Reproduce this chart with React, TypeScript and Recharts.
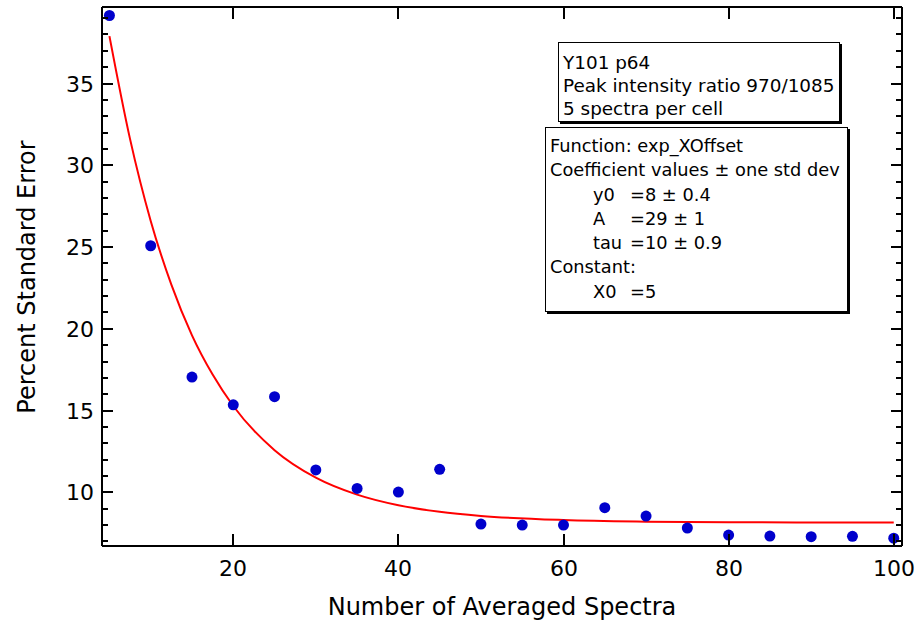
import React from 'react';
import { ComposedChart, Scatter, Line, XAxis, YAxis, ReferenceLine } from 'recharts';

// Data
const averagedSpectra = [5, 10, 15, 20, 25, 30, 35, 40, 45, 50, 55, 60, 65, 70, 75, 80, 85, 90, 95, 100];
const percentStdError = [39.16, 25.08, 17.05, 15.35, 15.85, 11.37, 10.24, 10.02, 11.41, 8.06, 8.0, 8.0, 9.06, 8.55, 7.82, 7.39, 7.33, 7.29, 7.31, 7.2];

// Fitted curve
const fitX = [5, 7.5, 10, 12.5, 15, 17.5, 20, 25, 30, 35, 40, 45, 50, 60, 70, 80, 90, 100];
const fitY = [37.9, 31.6, 26.6, 22.7, 19.6, 17.2, 15.28, 12.58, 10.9, 9.86, 9.21, 8.81, 8.56, 8.31, 8.21, 8.17, 8.16, 8.16];

const xTicks = [20, 40, 60, 80, 100];
const yTicks = [7, 8, 9, 10, 11, 12, 13, 14, 15, 16, 17, 18, 19, 20, 21, 22, 23, 24, 25, 26, 27, 28, 29, 30, 31, 32, 33, 34, 35, 36, 37, 38, 39];

const xDomain = [4.1, 101];
const yDomain = [6.72, 39.68];

const box1Lines = ['Y101 p64', 'Peak intensity ratio 970/1085', '5 spectra per cell'];
const box2Header = ['Function: exp_XOffset', 'Coefficient values \u00b1 one std dev'];
const box2Coefs = [
  ['y0', '=8 \u00b1 0.4'],
  ['A', '=29 \u00b1 1'],
  ['tau', '=10 \u00b1 0.9'],
];
const box2ConstHeader = 'Constant:';
const box2Consts = [['X0', '=5']];

const scatterData = averagedSpectra.map((x, i) => ({ x, y: percentStdError[i] }));
const fitData = fitX.map((x, i) => ({ x, fit: fitY[i] }));

const W = 919;
const H = 626;
const PLOT_LEFT = 102;
const PLOT_RIGHT = 902;
const PLOT_TOP = 7;
const PLOT_BOTTOM = 546;
const PLOT_W = PLOT_RIGHT - PLOT_LEFT;
const PLOT_H = PLOT_BOTTOM - PLOT_TOP;
const FONT = '"DejaVu Sans", sans-serif';

const YTick = (props: any) => {
  const { x, payload } = props;
  const y = Math.round(props.y);
  const v = payload.value;
  const major = v % 5 === 0;
  const len = major ? 11 : 6;
  return (
    <g>
      <line x1={x} x2={x + len} y1={y} y2={y} stroke="#000" strokeWidth={2} shapeRendering="crispEdges" />
      <line x1={x + PLOT_W} x2={x + PLOT_W - len} y1={y} y2={y} stroke="#000" strokeWidth={2} shapeRendering="crispEdges" />
      {major && (
        <text x={x - 8} y={y} dy="0.36em" textAnchor="end" fontFamily={FONT} fontSize={22} fill="#000">
          {v}
        </text>
      )}
    </g>
  );
};

const XTick = (props: any) => {
  const { y, payload } = props;
  const x = Math.round(props.x);
  const len = 12;
  return (
    <g>
      <line x1={x} x2={x} y1={y} y2={y - len} stroke="#000" strokeWidth={2} shapeRendering="crispEdges" />
      <line x1={x} x2={x} y1={y - PLOT_H} y2={y - PLOT_H + len} stroke="#000" strokeWidth={2} shapeRendering="crispEdges" />
      <text x={x} y={y + 22} dy="0.36em" textAnchor="middle" fontFamily={FONT} fontSize={22} fill="#000">
        {payload.value}
      </text>
    </g>
  );
};

const boxStyle: React.CSSProperties = {
  position: 'absolute',
  background: '#fff',
  border: '1px solid #000',
  boxShadow: '2px 2px 0 #000',
  fontFamily: FONT,
  fontSize: 18,
  color: '#000',
  boxSizing: 'border-box',
  whiteSpace: 'nowrap',
};

export default function App() {
  return (
    <div style={{ position: 'absolute', left: 0, top: 0, width: W, height: H, background: '#fff' }}>
      <ComposedChart
        width={W}
        height={H}
        margin={{ top: PLOT_TOP, right: W - PLOT_RIGHT, left: 0, bottom: 0 }}
      >
        <XAxis
          type="number"
          dataKey="x"
          domain={xDomain}
          allowDataOverflow
          ticks={xTicks}
          interval={0}
          tickSize={0}
          tickMargin={0}
          tickLine={false}
          tick={<XTick />}
          axisLine={{ stroke: '#000', strokeWidth: 2, shapeRendering: 'crispEdges' }}
          height={H - PLOT_BOTTOM}
        />
        <YAxis
          type="number"
          domain={yDomain}
          allowDataOverflow
          ticks={yTicks}
          interval={0}
          tickSize={0}
          tickMargin={0}
          tickLine={false}
          tick={<YTick />}
          axisLine={{ stroke: '#000', strokeWidth: 2, shapeRendering: 'crispEdges' }}
          width={PLOT_LEFT}
        />
        <ReferenceLine y={yDomain[1]} stroke="#000" strokeWidth={2} shapeRendering="crispEdges" />
        <ReferenceLine x={xDomain[1]} stroke="#000" strokeWidth={2} shapeRendering="crispEdges" />
        <Line
          data={fitData}
          dataKey="fit"
          type="monotone"
          stroke="#ff0000"
          strokeWidth={2}
          dot={false}
          activeDot={false}
          isAnimationActive={false}
        />
        <Scatter data={scatterData} dataKey="y" fill="#0000cc" isAnimationActive={false}
          shape={(p: any) => <circle cx={p.cx} cy={p.cy} r={5.5} fill="#0000cc" />} />
      </ComposedChart>

      <div
        style={{
          position: 'absolute',
          left: 14,
          top: PLOT_TOP + PLOT_H / 2,
          transform: 'translate(-50%, -50%) rotate(-90deg)',
          transformOrigin: 'center',
          fontFamily: FONT,
          fontSize: 24,
          whiteSpace: 'nowrap',
          marginLeft: 13,
        }}
      >
        Percent Standard Error
      </div>
      <div
        style={{
          position: 'absolute',
          left: PLOT_LEFT,
          width: PLOT_W,
          top: 593,
          textAlign: 'center',
          fontFamily: FONT,
          fontSize: 24,
          whiteSpace: 'nowrap',
        }}
      >
        Number of Averaged Spectra
      </div>

      <div style={{ ...boxStyle, left: 558, top: 42, width: 282, height: 80, padding: '8px 0 0 4px', lineHeight: '23px', fontSize: 18.4 }}>
        {box1Lines.map((t) => (
          <div key={t}>{t}</div>
        ))}
      </div>

      <div style={{ ...boxStyle, left: 545, top: 127, width: 303, height: 185, padding: '6px 0 0 4px', lineHeight: '24.3px', fontSize: 17.8 }}>
        {box2Header.map((t) => (
          <div key={t}>{t}</div>
        ))}
        {box2Coefs.map(([k, v]) => (
          <div key={k} style={{ paddingLeft: 43 }}>
            <span style={{ display: 'inline-block', width: 37 }}>{k}</span>
            {v}
          </div>
        ))}
        <div>{box2ConstHeader}</div>
        {box2Consts.map(([k, v]) => (
          <div key={k} style={{ paddingLeft: 43 }}>
            <span style={{ display: 'inline-block', width: 37 }}>{k}</span>
            {v}
          </div>
        ))}
      </div>
    </div>
  );
}
